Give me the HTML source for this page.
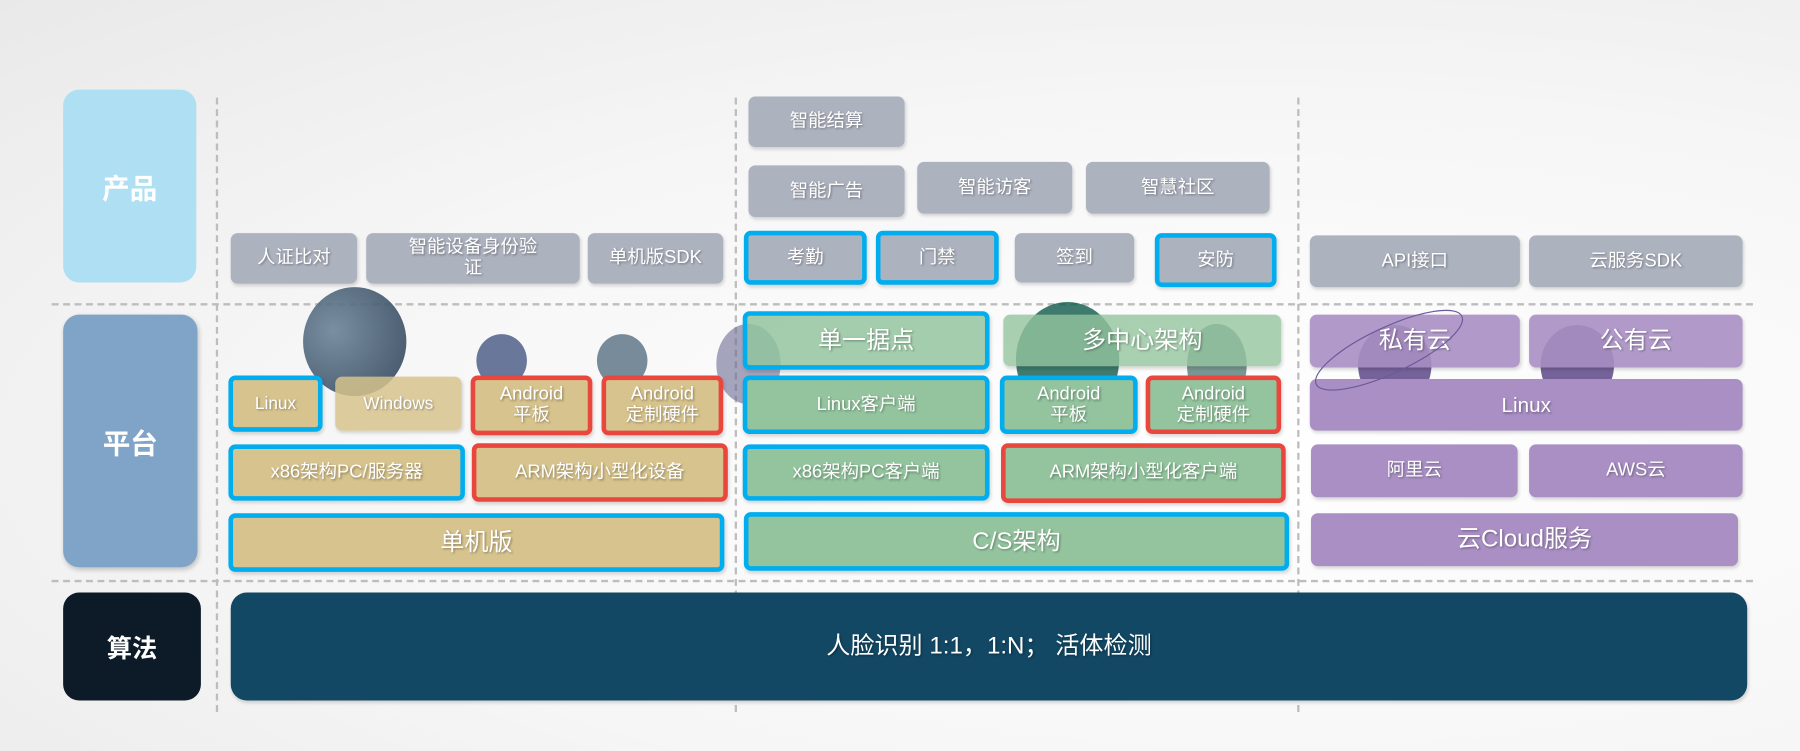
<!DOCTYPE html>
<html><head><meta charset="utf-8"><style>
html,body{margin:0;padding:0;width:1800px;height:751px;overflow:hidden;background:#f7f7f7}
#bg{position:absolute;left:0;top:0;width:1800px;height:751px;background:radial-gradient(ellipse at 70% 60%,#ffffff 0%,#f6f6f6 55%,#e9e9e9 100%)}
#w{position:absolute;left:0;top:0;width:1568px;height:654px;transform:scale(1.14796,1.1483);transform-origin:0 0;font-family:"Liberation Sans","Noto Sans CJK SC",sans-serif}
.b{position:absolute;box-sizing:border-box;border-radius:6px;color:#fff;display:flex;align-items:center;justify-content:center;text-align:center;font-size:16px;line-height:18px;text-shadow:1px 1px 2px rgba(0,0,0,.35);box-shadow:1px 2px 3px rgba(0,0,0,.15)}
.g{background:#adb2bf}.t{background:#d7c38d}.gr{background:#93c49e}.p{background:#a98fc3}
.bl{border:4px solid #00adee}.rd{border:4px solid #e9473d}
.lab{position:absolute;border-radius:14px;color:#fff;display:flex;align-items:center;justify-content:center;font-size:24px;font-weight:bold}
.hd{position:absolute;height:0;border-top:2px dashed #bdbdbd}
.vd{position:absolute;width:0;border-left:2px dashed #bdbdbd}
.c{position:absolute;border-radius:50%}
.big{font-size:21px}
</style></head><body><div id="bg"></div>
<div id="w">
<div class="hd" style="left:45px;top:264px;width:1482px"></div>
<div class="hd" style="left:45px;top:505px;width:1482px"></div>
<div class="vd" style="left:188px;top:85px;height:535px"></div>
<div class="vd" style="left:640px;top:85px;height:535px"></div>
<div class="vd" style="left:1130px;top:85px;height:535px"></div>

<div class="lab" style="left:55px;top:78px;width:116px;height:168px;background:#aedff2">产品</div>
<div class="lab" style="left:55px;top:274px;width:117px;height:220px;background:#80a3c8;box-shadow:1px 2px 4px rgba(0,0,0,.2)">平台</div>
<div class="lab" style="left:55px;top:516px;width:120px;height:94px;background:#0c1b27;font-size:22px">算法</div>
<div class="b" style="left:201px;top:516px;width:1321px;height:94px;background:#124864;border-radius:14px;font-size:21px">人脸识别 1:1，1:N； 活体检测</div>

<!-- product -->
<div class="b g" style="left:201px;top:203px;width:110px;height:44px">人证比对</div>
<div class="b g" style="left:319px;top:203px;width:186px;height:44px">智能设备身份验<br>证</div>
<div class="b g" style="left:512px;top:203px;width:118px;height:44px">单机版SDK</div>
<div class="b g" style="left:652px;top:84px;width:136px;height:44px">智能结算</div>
<div class="b g" style="left:652px;top:144px;width:136px;height:45px">智能广告</div>
<div class="b g" style="left:799px;top:141px;width:135px;height:45px">智能访客</div>
<div class="b g" style="left:946px;top:141px;width:160px;height:45px">智慧社区</div>
<div class="b g bl" style="left:648px;top:201px;width:107px;height:47px">考勤</div>
<div class="b g bl" style="left:763px;top:201px;width:107px;height:47px">门禁</div>
<div class="b g" style="left:884px;top:203px;width:104px;height:43px">签到</div>
<div class="b g bl" style="left:1006px;top:203px;width:106px;height:47px">安防</div>
<div class="b g" style="left:1141px;top:205px;width:183px;height:45px">API接口</div>
<div class="b g" style="left:1332px;top:205px;width:186px;height:45px">云服务SDK</div>

<!-- circles -->
<div class="c" style="left:264px;top:250px;width:90px;height:95px;background:radial-gradient(circle at 30% 40%,#6c8499,#2a3d53);opacity:.9"></div>
<div class="c" style="left:415px;top:291px;width:44px;height:46px;background:#4f6089;opacity:.85"></div>
<div class="c" style="left:520px;top:291px;width:44px;height:46px;background:#60788a;opacity:.85"></div>
<div class="c" style="left:624px;top:282px;width:56px;height:70px;background:#6a6a94;opacity:.6"></div>
<div class="c" style="left:885px;top:263px;width:90px;height:100px;background:#0f5a4a;opacity:.8"></div>
<div class="c" style="left:1034px;top:282px;width:52px;height:72px;background:#3f6a64;opacity:.7"></div>
<div class="c" style="left:1183px;top:283px;width:64px;height:70px;background:#5d4688;opacity:.85"></div>
<div class="c" style="left:1342px;top:283px;width:64px;height:70px;background:#5d4688;opacity:.85"></div>

<!-- platform left -->
<div class="b t bl" style="left:199px;top:327px;width:82px;height:49px;font-size:15px">Linux</div>
<div class="b t" style="left:292px;top:328px;width:110px;height:47px;font-size:15px;background:rgba(215,195,141,.85)">Windows</div>
<div class="b t rd" style="left:410px;top:327px;width:106px;height:52px">Android<br>平板</div>
<div class="b t rd" style="left:524px;top:327px;width:106px;height:52px">Android<br>定制硬件</div>
<div class="b t bl" style="left:199px;top:387px;width:206px;height:49px">x86架构PC/服务器</div>
<div class="b t rd" style="left:411px;top:386px;width:223px;height:51px">ARM架构小型化设备</div>
<div class="b t bl big" style="left:199px;top:447px;width:432px;height:51px">单机版</div>

<!-- platform middle -->
<div class="b gr bl big" style="left:647px;top:271px;width:215px;height:51px;background:rgba(147,196,158,.85)">单一据点</div>
<div class="b gr big" style="left:874px;top:274px;width:242px;height:45px;background:rgba(147,196,158,.8)">多中心架构</div>
<div class="b gr bl" style="left:647px;top:327px;width:215px;height:51px">Linux客户端</div>
<div class="b gr bl" style="left:871px;top:327px;width:120px;height:51px">Android<br>平板</div>
<div class="b gr rd" style="left:998px;top:327px;width:118px;height:51px">Android<br>定制硬件</div>
<div class="b gr bl" style="left:647px;top:387px;width:215px;height:49px">x86架构PC客户端</div>
<div class="b gr rd" style="left:872px;top:386px;width:248px;height:52px">ARM架构小型化客户端</div>
<div class="b gr bl big" style="left:648px;top:446px;width:475px;height:51px">C/S架构</div>

<!-- platform right -->
<div class="b p big" style="left:1141px;top:274px;width:183px;height:46px;background:rgba(169,143,195,.9)">私有云</div>
<div class="b p big" style="left:1332px;top:274px;width:186px;height:46px;background:rgba(169,143,195,.9)">公有云</div>
<div class="b p" style="left:1141px;top:330px;width:377px;height:45px;font-size:18px">Linux</div>
<div class="b p" style="left:1142px;top:387px;width:180px;height:46px">阿里云</div>
<div class="b p" style="left:1332px;top:387px;width:186px;height:46px">AWS云</div>
<div class="b p big" style="left:1142px;top:447px;width:372px;height:46px">云Cloud服务</div>
<svg style="position:absolute;left:1140px;top:260px" width="140" height="90"><ellipse cx="70" cy="45" rx="70" ry="20" transform="rotate(-25 70 45)" fill="none" stroke="#6a5a9a" stroke-width="1"/></svg>
</div>
</body></html>
